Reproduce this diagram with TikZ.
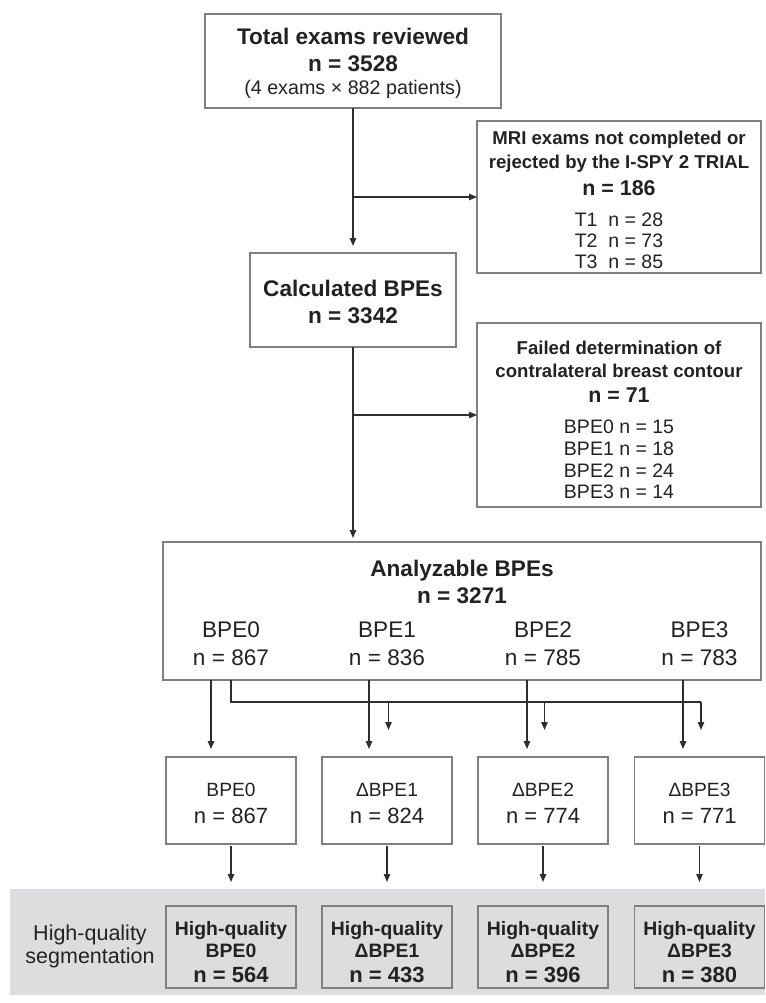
\documentclass[tikz,border=0pt]{standalone}
\usepackage{fontspec}
\setmainfont{Liberation Sans}
\usetikzlibrary{arrows.meta,calc}
\definecolor{boxgray}{HTML}{808080}
\definecolor{linegray}{HTML}{2E2E2E}
\definecolor{bandgray}{HTML}{DCDDDF}
\definecolor{txtcol}{HTML}{222222}
\begin{document}
\begin{tikzpicture}[x=1pt,y=-1pt,
  box/.style={draw=boxgray,line width=1.3pt,inner sep=0pt,outer sep=0pt},
  arr/.style={draw=linegray,line width=1.3pt,-{Triangle[length=8pt,width=6.5pt]}},
  ln/.style={draw=linegray,line width=1.3pt},
  tx/.style={text=txtcol,anchor=base,inner sep=0pt,outer sep=0pt},
  bigB/.style={tx,font=\fontsize{22.6}{26}\selectfont\bfseries},
  bigR/.style={tx,font=\fontsize{22.6}{26}\selectfont},
  midB/.style={tx,font=\fontsize{18.6}{22}\selectfont\bfseries},
  midR/.style={tx,font=\fontsize{19.5}{22}\selectfont},
  nB/.style={tx,font=\fontsize{21.4}{24}\selectfont\bfseries},
  hqB/.style={tx,font=\fontsize{19.4}{22}\selectfont\bfseries},
  hnB/.style={tx,font=\fontsize{22}{25}\selectfont\bfseries},
  rowR/.style={tx,font=\fontsize{19.2}{22}\selectfont},
  rowN/.style={tx,font=\fontsize{22}{25}\selectfont},
  labR/.style={tx,font=\fontsize{21.5}{24}\selectfont}
]
\useasboundingbox (0,0) rectangle (765,1003);

% gray band
\node[fill=bandgray,inner sep=0pt,outer sep=0pt,minimum width=755pt,minimum height=106pt] (band) at (387.5,942) {};

% boxes
\node[box,minimum width=296pt,minimum height=94pt] (top) at (353,61) {};
\node[box,minimum width=284pt,minimum height=152pt] (s1) at (619,197) {};
\node[box,minimum width=206pt,minimum height=94pt] (calc) at (353,300) {};
\node[box,minimum width=284pt,minimum height=184pt] (s2) at (619,415) {};
\node[box,minimum width=598pt,minimum height=138pt] (an) at (462,611) {};
\foreach \i/\x in {0/231,1/387,2/543,3/699.5}{
  \node[box,minimum width=130pt,minimum height=87pt] (r\i) at (\x,800.5) {};
  \node[box,fill=bandgray,minimum width=130pt,minimum height=82pt] (h\i) at (\x,947) {};
}

% texts: top
\node[bigB] (t1) at (353,45) {Total exams reviewed};
\node[bigB] (t2) at (353,72) {n = 3528};
\node[tx,font=\fontsize{19.7}{22}\selectfont] (t3) at (353,95) {(4 exams × 882 patients)};
% side 1
\node[midB] (a1) at (619,145) {MRI exams not completed or};
\node[midB] (a2) at (619,168) {rejected by the I-SPY 2 TRIAL};
\node[nB] (a3) at (619,195) {n = 186};
\node[midR] (a4) at (619,226) {T1\ \ n = 28};
\node[midR] (a5) at (619,247) {T2\ \ n = 73};
\node[midR] (a6) at (619,268) {T3\ \ n = 85};
% calc
\node[bigB] (c1) at (353,296) {Calculated BPEs};
\node[bigB] (c2) at (353,323) {n = 3342};
% side 2
\node[midB] (b1) at (619,354) {Failed determination of};
\node[midB] (b2) at (619,377) {contralateral breast contour};
\node[nB] (b3) at (619,402) {n = 71};
\node[midR] (b4) at (619,433) {BPE0 n = 15};
\node[midR] (b5) at (619,455) {BPE1 n = 18};
\node[midR] (b6) at (619,477) {BPE2 n = 24};
\node[midR] (b7) at (619,498) {BPE3 n = 14};
% analyzable
\node[bigB] (d1) at (462,576) {Analyzable BPEs};
\node[bigB] (d2) at (462,603) {n = 3271};
\foreach \i/\x/\n in {0/231/867,1/387/836,2/543/785,3/699.5/783}{
  \node[bigR] (dl\i) at (\x,637) {BPE\i};
  \node[bigR] (dn\i) at (\x,665) {n = \n};
}
% row 2
\node[rowR] (e0) at (231,796) {BPE0};
\node[rowR] (e1) at (387,796) {ΔBPE1};
\node[rowR] (e2) at (543,796) {ΔBPE2};
\node[rowR] (e3) at (699.5,796) {ΔBPE3};
\node[rowN] (f0) at (231,823) {n = 867};
\node[rowN] (f1) at (387,823) {n = 824};
\node[rowN] (f2) at (543,823) {n = 774};
\node[rowN] (f3) at (699.5,823) {n = 771};
% bottom
\foreach \i/\x/\lab/\n in {0/231/BPE0/564,1/387/ΔBPE1/433,2/543/ΔBPE2/396,3/699.5/ΔBPE3/380}{
  \node[hqB] (g\i) at (\x,935) {High-quality};
  \node[hqB] (k\i) at (\x,957) {\lab};
  \node[hnB] (m\i) at (\x,982) {n = \n};
}
\node[labR] (l1) at (90,940) {High-quality};
\node[labR] (l2) at (90,963) {segmentation};

% connectors
\draw[arr,shorten >=7pt] (top.south) -- (calc.north);
\draw[arr] (top.south |- s1.west) -- (s1.west);
\draw[arr,shorten >=4pt] (calc.south) -- (calc.south |- an.north);
\draw[arr] (calc.south |- s2.west) -- (s2.west);
\foreach \i/\d in {0/-20,1/-18,2/-16,3/-16.5}{
  \draw[arr,shorten >=8pt] ([xshift=\d pt]r\i.north |- an.south) -- ([xshift=\d pt]r\i.north);
}
\coordinate (bk) at (231,702);
\draw[ln] (r0.north |- an.south) -- (r0.north |- bk) -- ([xshift=1.5pt]r3.north |- bk);
\foreach \i in {1,2,3}{
  \draw[arr,shorten >=27pt] ([xshift=1.5pt]r\i.north |- bk) -- ([xshift=1.5pt]r\i.north);
}
\foreach \i in {0,1,2,3}{
  \draw[arr,shorten <=2pt,shorten >=24pt] (r\i.south) -- (h\i.north);
}
\end{tikzpicture}
\end{document}
